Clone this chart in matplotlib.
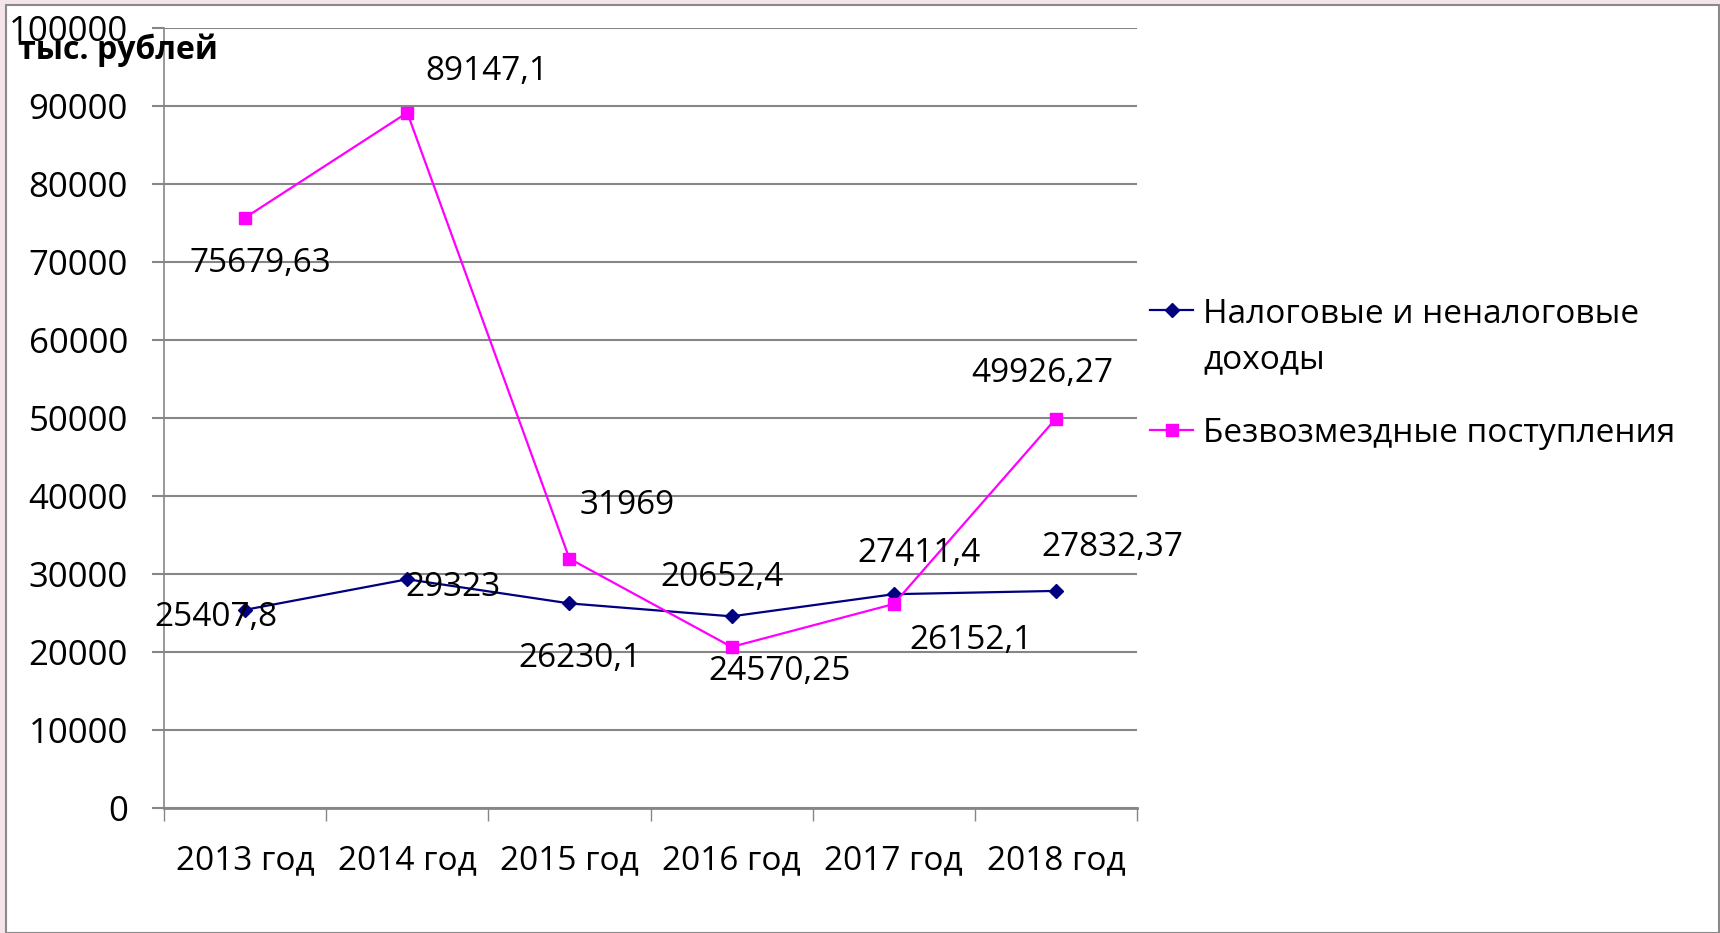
import matplotlib
matplotlib.use("Agg")
import matplotlib.pyplot as plt
from matplotlib.patches import Rectangle

# ==== Data ====
years = ["2013 год", "2014 год", "2015 год", "2016 год", "2017 год", "2018 год"]
tax_income = [25407.8, 29323, 26230.1, 24570.25, 27411.4, 27832.37]
grants = [75679.63, 89147.1, 31969, 20652.4, 26152.1, 49926.27]
tax_label = "Налоговые и неналоговые\nдоходы"
grants_label = "Безвозмездные поступления"

# label offsets in pixels (dx, dy) relative to each point
tax_offsets = [(-29, -8), (46, -8), (11, -55), (48, -55), (25, 41), (56, 43)]
grants_offsets = [(15, -46), (80, 41), (58, 53), (-10, 69), (77, -36), (-14, 45)]

plt.rcParams['font.family'] = ['Open Sans', 'DejaVu Sans']
FS = 24
GRID = "#868686"


def fmt(v):
    s = repr(float(v))
    if s.endswith(".0"):
        s = s[:-2]
    return s.replace(".", ",")


fig = plt.figure(figsize=(17.2, 9.33), dpi=100)
fig.patches.append(Rectangle((0, 0), 1, 1, transform=fig.transFigure,
                             facecolor="#f3e5eb", edgecolor="none", zorder=-10))
fig.patches.append(Rectangle((6 / 1720, 0), 1713 / 1720, 1 - 5 / 933, transform=fig.transFigure,
                             facecolor="white", edgecolor="#8a8a8a", linewidth=1.5, zorder=-9))

ax = fig.add_axes([164 / 1720, 1 - 808 / 933, (1137 - 164) / 1720, (808 - 28) / 933])
ax.set_facecolor("none")
x = list(range(len(years)))

ax.plot(x, tax_income, color="#000080", lw=1.6, marker="D", ms=7, label=tax_label, zorder=3)
ax.plot(x, grants, color="#ff00ff", lw=1.6, marker="s", ms=9, label=grants_label, zorder=3)

for xi, v, off in zip(x, tax_income, tax_offsets):
    ax.annotate(fmt(v), (xi, v), xytext=off, textcoords="offset pixels",
                ha="center", va="center", fontsize=FS, zorder=4)
for xi, v, off in zip(x, grants, grants_offsets):
    ax.annotate(fmt(v), (xi, v), xytext=off, textcoords="offset pixels",
                ha="center", va="center", fontsize=FS, zorder=4)

ax.set_xlim(-0.5, len(years) - 0.5)
ax.set_ylim(0, 100000)
ax.set_yticks(range(0, 100001, 10000))
ax.set_xticks(x)
ax.set_xticklabels(years)
ax.set_xticks([i - 0.5 for i in range(len(years) + 1)], minor=True)
ax.tick_params(axis="x", which="major", length=0, pad=26, labelsize=FS)
ax.tick_params(axis="x", which="minor", length=9, width=1, color=GRID, direction="out")
ax.tick_params(axis="y", length=9, width=1.5, color=GRID, pad=17, labelsize=25)

ax.grid(axis="y", color=GRID, lw=1.5)
ax.set_axisbelow(True)
for side in ["top", "right"]:
    ax.spines[side].set_visible(False)
ax.spines["left"].set_color(GRID)
ax.spines["left"].set_linewidth(1.2)
ax.spines["bottom"].set_color(GRID)
ax.spines["bottom"].set_linewidth(2)

fig.text(18 / 1720, 1 - 50 / 933, "тыс. рублей", fontsize=23, fontweight="bold",
         ha="left", va="center")

leg = fig.legend(loc="upper left", bbox_to_anchor=(1150 / 1720, 1 - 298 / 933),
                 frameon=False, fontsize=FS, handlelength=1.3, handletextpad=0.3,
                 labelspacing=1.2, borderpad=0, borderaxespad=0)
leg.texts[0].set_linespacing(1.5)
# keep the handle of the two-line entry next to its first line
first_row = leg._legend_handle_box.get_children()[0].get_children()[0]
first_row.align = "top"

fig.savefig("out.png", dpi=100)
